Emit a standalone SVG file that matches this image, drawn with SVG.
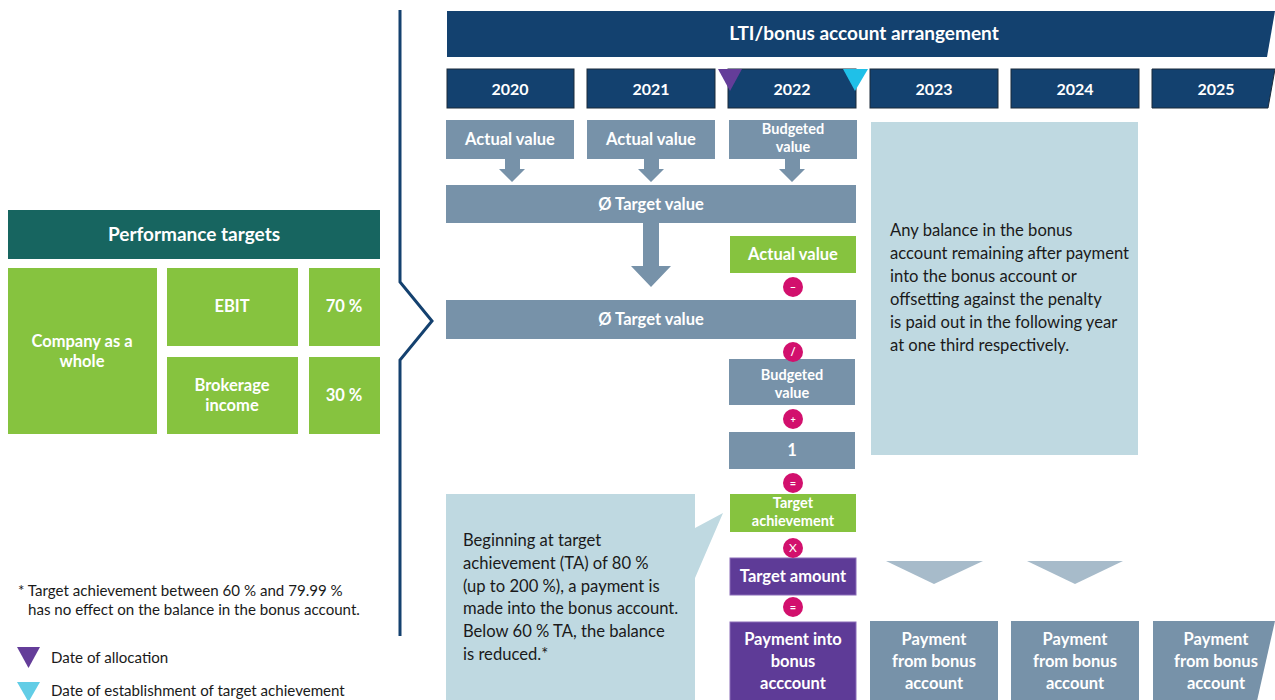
<svg xmlns="http://www.w3.org/2000/svg" width="1275" height="700" viewBox="0 0 1275 700">
<defs>
<style>
text{font-family:Lato,"Open Sans","Liberation Sans",sans-serif}
.w{fill:#fff;font-weight:bold;font-size:16.5px;text-anchor:middle}
.sm{font-size:14.5px}
.yr{font-size:16px}
.big{font-size:19px}
.dark{fill:#13416f;stroke:#1b2b3b;stroke-width:1}
.slate{fill:#7792a9}
.green{fill:#86c33f}
.purple{fill:#5e3b97;stroke:#8a6cb8;stroke-width:1}
.light{fill:#bfd9e1}
.op{fill:#d2106d}
.opt{fill:#fff;font-size:11px;font-weight:bold;text-anchor:middle}
.body{fill:#1a1a1a;font-size:16.6px}
.note{fill:#1a1a1a;font-size:15.1px}
.chev{fill:#a7bbca}
</style>
</defs>

<g id="bracket">
<polyline points="400,10 400,282 432,321 400,360 400,636" fill="none" stroke="#14416f" stroke-width="3"/>
</g>

<g id="header">
<polygon points="447,11 1275,11 1267,57 447,57" fill="#13416f"/>
<text class="w big" x="864" y="40">LTI/bonus account arrangement</text>
</g>

<g id="years">
<rect class="dark" x="447" y="69" width="127" height="39"/>
<text class="w yr" x="510" y="95">2020</text>
<rect class="dark" x="587" y="69" width="128" height="39"/>
<text class="w yr" x="651" y="95">2021</text>
<rect class="dark" x="728" y="69" width="128" height="39"/>
<text class="w yr" x="792" y="95">2022</text>
<rect class="dark" x="870" y="69" width="128" height="39"/>
<text class="w yr" x="934" y="95">2023</text>
<rect class="dark" x="1011" y="69" width="128" height="39"/>
<text class="w yr" x="1075" y="95">2024</text>
<polygon class="dark" points="1152,69 1275,69 1268,108 1152,108"/>
<text class="w yr" x="1216" y="95">2025</text>
</g>

<g id="markers">
<polygon points="718,69 742,69 730,91" fill="#643d99"/>
<polygon points="843,69 868,69 855,91" fill="#1fc0e8"/>
</g>

<g id="perf-targets">
<rect x="8" y="210" width="372" height="49" fill="#176560"/>
<text class="w big" x="194" y="241">Performance targets</text>
<rect class="green" x="8" y="268" width="149" height="166"/>
<text class="w" x="82" y="347">Company as a</text>
<text class="w" x="82" y="367">whole</text>
<rect class="green" x="167" y="268" width="131" height="78"/>
<text class="w" x="232" y="312">EBIT</text>
<rect class="green" x="309" y="268" width="71" height="78"/>
<text class="w" x="344" y="312">70 %</text>
<rect class="green" x="167" y="357" width="131" height="77"/>
<text class="w" x="232" y="391">Brokerage</text>
<text class="w" x="232" y="411">income</text>
<rect class="green" x="309" y="357" width="71" height="77"/>
<text class="w" x="344" y="401">30 %</text>
</g>

<g id="connectors">
<polygon class="slate" points="505,159 520,159 520,169 525,169 512,182 499,169 505,169"/>
<polygon class="slate" points="644,159 659,159 659,169 664,169 651,182 638,169 644,169"/>
<polygon class="slate" points="785,159 800,159 800,169 805,169 792,182 779,169 785,169"/>
<polygon class="slate" points="643,223 659,223 659,266 671,266 651,287 631,266 643,266"/>
<polygon class="chev" points="886,561 983,561 934,584"/>
<polygon class="chev" points="1027,561 1123,561 1075,584"/>
</g>

<g id="inputs">
<rect class="slate" x="446" y="120" width="128" height="39"/>
<text class="w" x="510" y="145">Actual value</text>
<rect class="slate" x="587" y="120" width="128" height="39"/>
<text class="w" x="651" y="145">Actual value</text>
<rect class="slate" x="729" y="120" width="128" height="39"/>
<text class="w sm" x="793" y="134">Budgeted</text>
<text class="w sm" x="793" y="152">value</text>
</g>

<g id="avg1">
<rect class="slate" x="446" y="185" width="410" height="38"/>
<text class="w" x="651" y="210">Ø Target value</text>
</g>

<g id="actual2">
<rect class="green" x="730" y="236" width="126" height="37"/>
<text class="w" x="793" y="260">Actual value</text>
</g>

<g id="avg2">
<rect class="slate" x="446" y="300" width="410" height="39"/>
<text class="w" x="651" y="325">Ø Target value</text>
</g>

<g id="budgeted2">
<rect class="slate" x="729" y="359" width="126" height="46"/>
<text class="w sm" x="792" y="380">Budgeted</text>
<text class="w sm" x="792" y="398">value</text>
</g>

<g id="one">
<rect class="slate" x="729" y="432" width="126" height="37"/>
<text class="w" x="792" y="456">1</text>
</g>

<g id="target-achievement">
<rect class="green" x="730" y="494" width="126" height="38"/>
<text class="w sm" x="793" y="508">Target</text>
<text class="w sm" x="793" y="526">achievement</text>
</g>

<g id="target-amount">
<rect class="purple" x="730" y="558" width="126" height="37"/>
<text class="w" x="793" y="582">Target amount</text>
</g>

<g id="payment-into">
<rect class="purple" x="730" y="622" width="126" height="80"/>
<text class="w" x="793" y="645">Payment into</text>
<text class="w" x="793" y="667">bonus</text>
<text class="w" x="793" y="689">acccount</text>
</g>

<g id="operators">
<circle class="op" cx="793" cy="287" r="10"/><text class="opt" x="793" y="291">–</text>
<circle class="op" cx="793" cy="352" r="10"/><text class="opt" x="793" y="356">/</text>
<circle class="op" cx="793" cy="419" r="10"/><text class="opt" x="793" y="423" style="font-size:9px">+</text>
<circle class="op" cx="793" cy="483" r="10"/><text class="opt" x="793" y="487">=</text>
<circle class="op" cx="793" cy="548" r="10"/><text class="opt" x="793" y="552" style="font-size:12px;font-weight:normal">X</text>
<circle class="op" cx="793" cy="607" r="10"/><text class="opt" x="793" y="611">=</text>
</g>

<g id="payments-from">
<rect class="slate" x="870" y="621" width="128" height="80"/>
<text class="w" x="934" y="645">Payment</text>
<text class="w" x="934" y="667">from bonus</text>
<text class="w" x="934" y="689">account</text>
<rect class="slate" x="1011" y="621" width="128" height="80"/>
<text class="w" x="1075" y="645">Payment</text>
<text class="w" x="1075" y="667">from bonus</text>
<text class="w" x="1075" y="689">account</text>
<polygon class="slate" points="1153,621 1275,621 1257,701 1153,701"/>
<text class="w" x="1216" y="645">Payment</text>
<text class="w" x="1216" y="667">from bonus</text>
<text class="w" x="1216" y="689">account</text>
</g>

<g id="callout-right">
<rect class="light" x="871" y="122" width="267" height="333"/>
<text class="body" x="890" y="236">Any balance in the bonus</text>
<text class="body" x="890" y="259">account remaining after payment</text>
<text class="body" x="890" y="282">into the bonus account or</text>
<text class="body" x="890" y="305">offsetting against the penalty</text>
<text class="body" x="890" y="328">is paid out in the following year</text>
<text class="body" x="890" y="351">at one third respectively.</text>
</g>

<g id="callout-left">
<polygon class="light" points="446,494 695,494 695,528 723,513 695,578 695,700 446,700"/>
<text class="body" x="463" y="546">Beginning at target</text>
<text class="body" x="463" y="569">achievement (TA) of 80 %</text>
<text class="body" x="463" y="592">(up to 200 %), a payment is</text>
<text class="body" x="463" y="614">made into the bonus account.</text>
<text class="body" x="463" y="637">Below 60 % TA, the balance</text>
<text class="body" x="463" y="660">is reduced.*</text>
</g>

<g id="footnote">
<text class="note" x="18" y="596">* Target achievement between 60 % and 79.99 %</text>
<text class="note" x="28" y="615">has no effect on the balance in the bonus account.</text>
</g>

<g id="legend">
<polygon points="17,647 40,647 28.5,668" fill="#643d99"/>
<text class="note" x="51" y="663">Date of allocation</text>
<polygon points="17,682 40,682 28.5,702" fill="#62cde6"/>
<text class="note" x="51" y="696">Date of establishment of target achievement</text>
</g>
</svg>
